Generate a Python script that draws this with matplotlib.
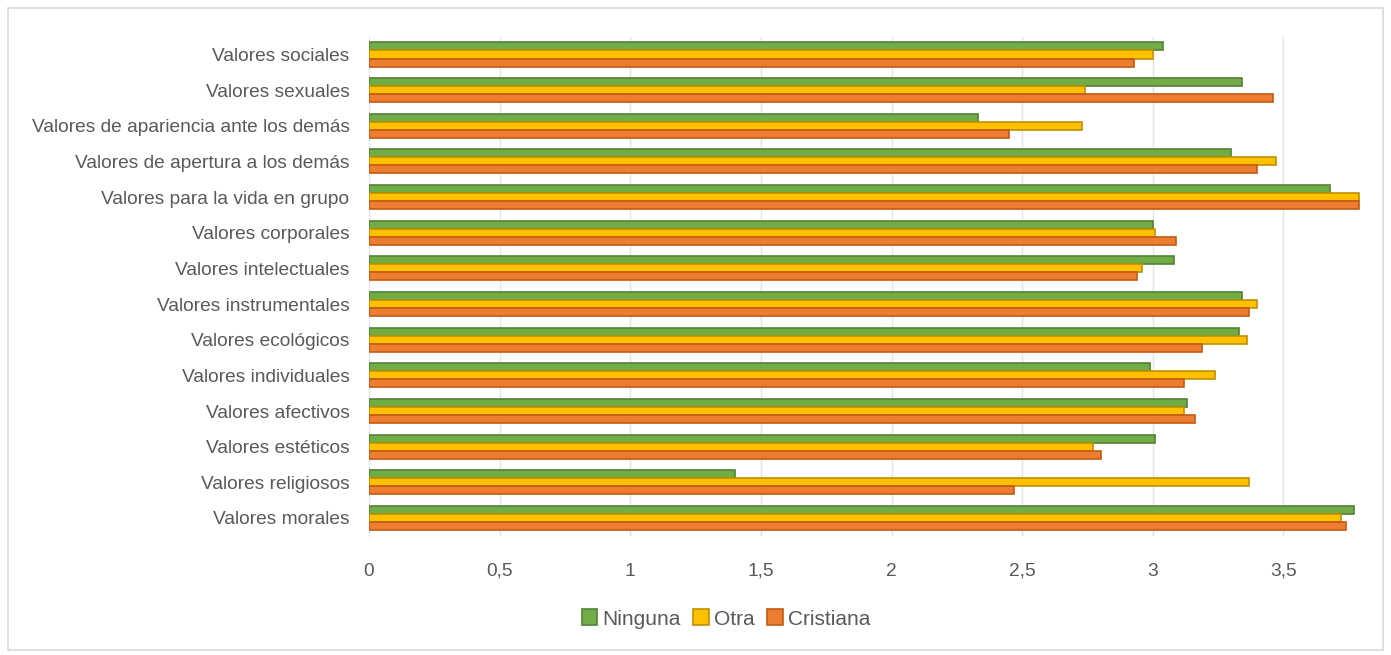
import matplotlib.pyplot as plt
import numpy as np
from matplotlib.patches import Rectangle
from matplotlib.transforms import blended_transform_factory, offset_copy

plt.rcParams['font.family'] = ['Liberation Sans', 'DejaVu Sans']

# Categorías (de abajo hacia arriba)
categorias = ['Valores morales', 'Valores religiosos', 'Valores estéticos',
              'Valores afectivos', 'Valores individuales', 'Valores ecológicos',
              'Valores instrumentales', 'Valores intelectuales', 'Valores corporales',
              'Valores para la vida en grupo', 'Valores de apertura a los demás',
              'Valores de apariencia ante los demás', 'Valores sexuales',
              'Valores sociales']

ninguna = [3.77, 1.40, 3.01, 3.13, 2.99, 3.33, 3.34, 3.08, 3.00, 3.68, 3.30, 2.33, 3.34, 3.04]
otra = [3.72, 3.37, 2.77, 3.12, 3.24, 3.36, 3.40, 2.96, 3.01, 3.79, 3.47, 2.73, 2.74, 3.00]
cristiana = [3.74, 2.47, 2.80, 3.16, 3.12, 3.19, 3.37, 2.94, 3.09, 3.79, 3.40, 2.45, 3.46, 2.93]

series = ['Ninguna', 'Otra', 'Cristiana']
colores = ['#70AD47', '#FFC000', '#ED7D31']
bordes = ['#548235', '#BF9000', '#C55A11']
xticks = [0, 0.5, 1, 1.5, 2, 2.5, 3, 3.5]
xticklabels = ['0', '0,5', '1', '1,5', '2', '2,5', '3', '3,5']
texto = '#595959'

fig = plt.figure(figsize=(13.91, 6.55), dpi=100)
ax = fig.add_axes([0.2653, 0.182, 0.7137, 0.762])

y = np.arange(len(categorias))
h = 0.225
desplaz = [h, 0, -h]
for vals, off, c, e, nombre in zip([ninguna, otra, cristiana], desplaz, colores, bordes, series):
    ax.barh(y + off, vals, height=h, color=c, edgecolor=e, linewidth=1.2, label=nombre, zorder=3)

ax.set_xlim(0, 3.8)
ax.set_ylim(-0.5, len(categorias) - 0.5)
ax.set_xticks(xticks)
ax.set_xticklabels([])
ax.set_yticks(y)
ax.set_yticklabels(categorias)
ax.tick_params(axis='both', length=0, colors=texto, labelsize=13.8)
ax.tick_params(axis='y', pad=14)

# etiquetas del eje x alineadas por la línea base (con coma decimal)
trans = offset_copy(blended_transform_factory(ax.transData, ax.transAxes),
                    fig=fig, y=-40, units='dots')
for xv, txt in zip(xticks, xticklabels):
    ax.text(xv, 0, txt, transform=trans, ha='center', va='baseline',
            fontsize=13.8, color=texto)

ax.grid(axis='x', color='#E4E4E4', linewidth=1, zorder=0)
for lado in ['top', 'right', 'bottom']:
    ax.spines[lado].set_visible(False)
ax.spines['left'].set_color('#E4E4E4')

leg = fig.legend(loc='center', bbox_to_anchor=(0.522, 0.055), ncol=3, frameon=False,
                 fontsize=15, handlelength=0.75, handleheight=0.8, handletextpad=0.25,
                 columnspacing=0.6, labelcolor=texto)

# Marco exterior
fig.patches.append(Rectangle((0.006, 0.008), 0.988, 0.98, transform=fig.transFigure,
                             fill=False, edgecolor='#D9D9D9', linewidth=1.2))

fig.savefig('out.png', dpi=100)
